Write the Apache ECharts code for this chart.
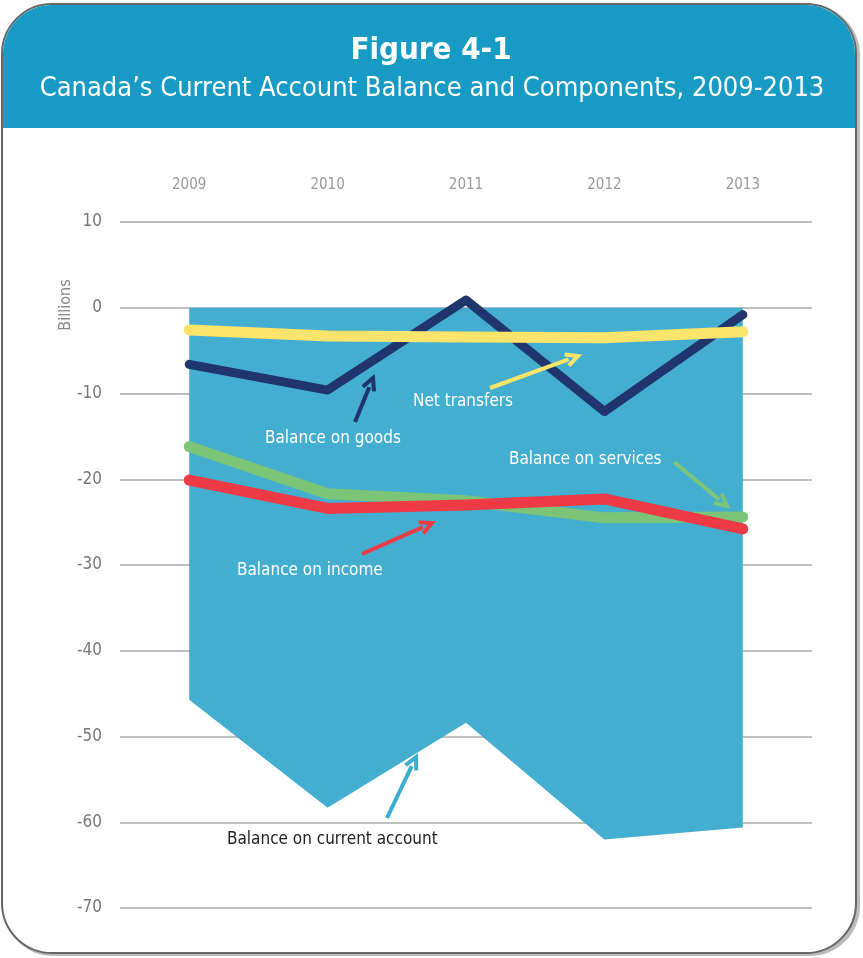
<!DOCTYPE html>
<html><head><meta charset="utf-8">
<script src="https://cdn.jsdelivr.net/npm/echarts@6/dist/echarts.min.js"></script>
<style>html,body{margin:0;padding:0;background:#fff}#c{width:863px;height:958px}</style>
</head><body><div id="c"></div>
<script>
var years = ['2009','2010','2011','2012','2013'];
var yTicks = [10,0,-10,-20,-30,-40,-50,-60,-70];
var currentAccount = [-45.7, -58.3, -48.4, -62.0, -60.6];
var goods = [-6.6, -9.6, 0.9, -12.1, -0.8];
var netTransfers = [-2.6, -3.3, -3.4, -3.5, -2.8];
var services = [-16.2, -21.7, -22.5, -24.5, -24.4];
var income = [-20.1, -23.4, -23.0, -22.3, -25.8];

var FONT = 'DejaVu Sans Condensed';
var chart = echarts.init(document.getElementById('c'));

function arrow(x1,y1,x2,y2,color,w){
  var dx=x2-x1, dy=y2-y1, L=Math.sqrt(dx*dx+dy*dy), ux=dx/L, uy=dy/L;
  var hl=12, hw=6;
  var bx=x2-ux*hl, by=y2-uy*hl;
  return [
    {type:'line', z:50, shape:{x1:x1,y1:y1,x2:bx+ux*2,y2:by+uy*2}, style:{stroke:color,lineWidth:w}},
    {type:'polyline', z:50, shape:{points:[[bx-uy*hw,by+ux*hw],[x2,y2],[bx+uy*hw,by-ux*hw]]}, style:{stroke:color,lineWidth:w,fill:null,lineJoin:'miter'}}
  ];
}
function label(x,y,t,color){
  return {type:'text', z:50, x:x, y:y, style:{text:t, fill:color, font:'17px "'+FONT+'"', textVerticalAlign:'middle'}};
}

var graphics = [
  {type:'rect', z:-10, shape:{x:3,y:5,width:857,height:951,r:50}, style:{fill:'#bbb'}, silent:true},
  {type:'rect', z:-9, shape:{x:2,y:4,width:854,height:949,r:50}, style:{fill:'#fff',stroke:'#666',lineWidth:2}},
  {type:'rect', z:-8, shape:{x:3,y:5,width:852,height:123,r:[49,49,0,0]}, style:{fill:'#179bc5'}},
  {type:'text', z:10, x:431, y:51, style:{text:'Figure 4-1', fill:'#fff', font:'bold 31px "'+FONT+'"', textAlign:'center', textVerticalAlign:'middle'}},
  {type:'text', z:10, x:432, y:89, style:{text:'Canada\u2019s Current Account Balance and Components, 2009-2013', fill:'#fff', font:'27px "'+FONT+'"', textAlign:'center', textVerticalAlign:'middle'}},
  {type:'text', z:10, x:66, y:305, rotation:Math.PI/2, style:{text:'Billions', fill:'#888', font:'16px "'+FONT+'"', textAlign:'center', textVerticalAlign:'middle'}},
  label(265,439,'Balance on goods','#fff'),
  label(413,402,'Net transfers','#fff'),
  label(509,460,'Balance on services','#fff'),
  label(237,571,'Balance on income','#fff'),
  label(227,840,'Balance on current account','#222')
];
graphics = graphics.concat(arrow(355,422,373,378,'#1f356c',4));
graphics = graphics.concat(arrow(490,388,578,356,'#f9e46a',4));
graphics = graphics.concat(arrow(674,462,727,506,'#7cc576',4));
graphics = graphics.concat(arrow(362,554,432,523,'#ee3a45',4));
graphics = graphics.concat(arrow(387,818,416,757,'#3aaed2',4));

function lineSeries(name,data,color,w,z){
  return {name:name,type:'line',data:data,symbol:'none',z:z,
    lineStyle:{color:color,width:w,cap:'round',join:'round'}};
}

chart.setOption({
  backgroundColor:'transparent',
  animation:false,
  graphic:graphics,
  grid:{left:120,right:51,top:222,bottom:50},
  xAxis:{type:'category',data:years,position:'top',boundaryGap:true,
    axisLine:{show:false},axisTick:{show:false},
    axisLabel:{color:'#999',fontSize:15,fontFamily:FONT,margin:29},
    splitLine:{show:false}},
  yAxis:{type:'value',min:-70,max:10,interval:10,
    axisLine:{show:false},axisTick:{show:false},
    axisLabel:{color:'#777',fontSize:17,fontFamily:FONT,margin:18},
    splitLine:{lineStyle:{color:'#aaa',width:1.5}}},
  series:[
    {name:'Balance on current account',type:'line',data:currentAccount,symbol:'none',z:2,
      lineStyle:{width:0},areaStyle:{color:'#44aed0',opacity:1,origin:0}},
    lineSeries('Balance on goods',goods,'#1f356c',9,3),
    lineSeries('Net transfers',netTransfers,'#fbe46c',11,4),
    lineSeries('Balance on services',services,'#7cc576',11,5),
    lineSeries('Balance on income',income,'#ee3a45',11,6)
  ]
});
</script></body></html>
